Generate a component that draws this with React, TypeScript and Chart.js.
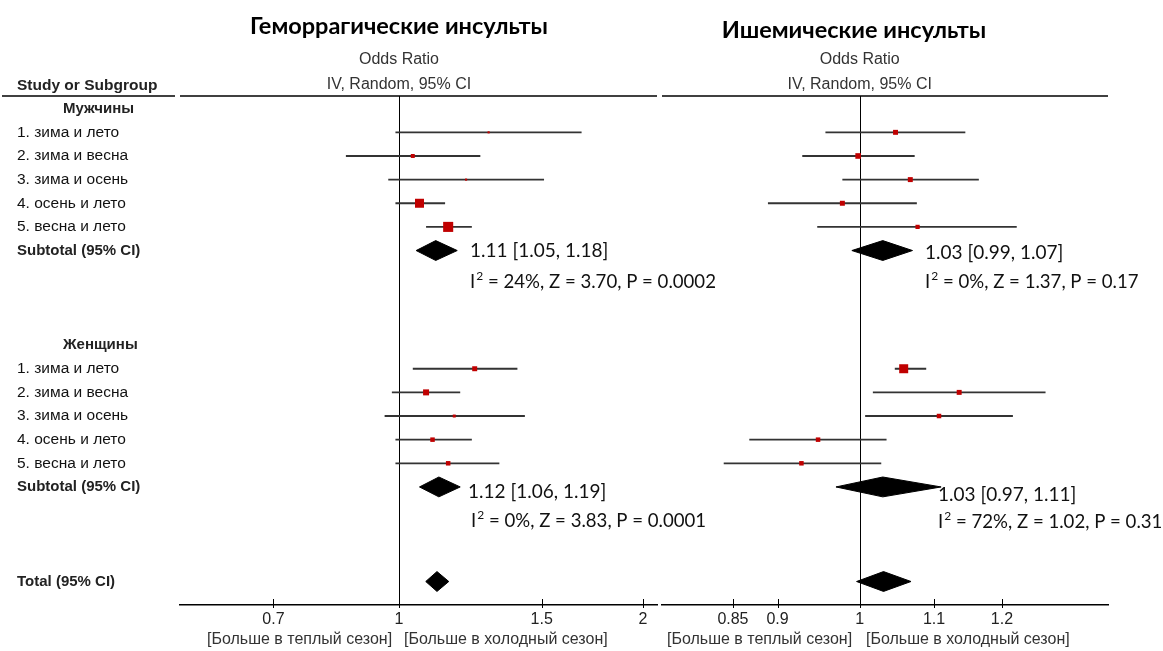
import React, { useEffect, useRef } from 'react';
import { Chart, registerables } from 'chart.js';

Chart.register(...registerables);

// ---------- text ----------
const panelTitles = ['Геморрагические инсульты', 'Ишемические инсульты'];
const effectHeader = ['Odds Ratio', 'IV, Random, 95% CI'];
const studyHeader = 'Study or Subgroup';
const groupLabels = ['Мужчины', 'Женщины'];
const studyLabels = ['1. зима и лето', '2. зима и весна', '3. зима и осень', '4. осень и лето', '5. весна и лето'];
const subtotalLabel = 'Subtotal (95% CI)';
const totalLabel = 'Total (95% CI)';
const favourLabels = ['[Больше в теплый сезон]', '[Больше в холодный сезон]'];

// ---------- hemorrhagic strokes ----------
const hemMenOR = [1.29, 1.04, 1.21, 1.06, 1.15];
const hemMenLow = [0.99, 0.86, 0.97, 0.99, 1.08];
const hemMenHigh = [1.68, 1.26, 1.51, 1.14, 1.23];
const hemMenWeight = [2, 7, 2, 36, 45];
const hemWomenOR = [1.24, 1.08, 1.17, 1.1, 1.15];
const hemWomenLow = [1.04, 0.98, 0.96, 0.99, 0.99];
const hemWomenHigh = [1.4, 1.19, 1.43, 1.23, 1.33];
const hemWomenWeight = [11, 16, 4, 9, 9];
const hemSubtotalOR = [1.11, 1.12];
const hemSubtotalLow = [1.05, 1.06];
const hemSubtotalHigh = [1.18, 1.19];
const hemSubtotalStats = ['24%, Z = 3.70, P = 0.0002', '0%, Z = 3.83, P = 0.0001'];
const hemTotal = [1.114, 1.079, 1.152];
const hemTicks = [0.7, 1, 1.5, 2];
const hemRange = [0.5368, 2.0814];

// ---------- ischemic strokes ----------
const ischMenOR = [1.047, 0.998, 1.067, 0.978, 1.077];
const ischMenLow = [0.957, 0.929, 0.978, 0.889, 0.947];
const ischMenHigh = [1.145, 1.073, 1.165, 1.076, 1.223];
const ischMenWeight = [11, 14, 11, 11, 8];
const ischWomenOR = [1.058, 1.136, 1.107, 0.948, 0.928];
const ischWomenLow = [1.046, 1.017, 1.007, 0.868, 0.84];
const ischWomenHigh = [1.089, 1.269, 1.217, 1.035, 1.028];
const ischWomenWeight = [36, 11, 9, 9, 9];
const ischSubtotalOR = [1.03, 1.03];
const ischSubtotalLow = [0.99, 0.97];
const ischSubtotalHigh = [1.07, 1.11];
const ischSubtotalStats = ['0%, Z = 1.37, P = 0.17', '72%, Z = 1.02, P = 0.31'];
const ischTotal = [1.031, 0.996, 1.068];
const ischTicks = [0.85, 0.9, 1, 1.1, 1.2];
const ischRange = [0.7761, 1.3748];

// ---------- layout helpers ----------
const ROW_MIN = -0.537;
const ROW_MAX = 20.994;
const groupRow = (g: number) => g * 10;
const studyRow = (g: number, i: number) => g * 10 + 1 + i;
const subtotalRow = (g: number) => g * 10 + 6;
const TOTAL_ROW = 20;
const DIAMOND_HALF = 0.42;

const RED = '#c00000';
const LINE = '#333333';
const SANS = '"Liberation Sans", Arial, sans-serif';
const CAL = 'Lato, "Open Sans", sans-serif';

function fmt(v: number) {
  return v.toFixed(2);
}

type Group = { or: number[]; low: number[]; high: number[]; weight: number[] };
type PanelData = {
  key: string;
  groups: Group[];
  subOR: number[];
  subLow: number[];
  subHigh: number[];
  subStats: string[];
  total: number[];
  ticks: number[];
  range: number[];
};

const hemData: PanelData = {
  key: 'hem',
  groups: [
    { or: hemMenOR, low: hemMenLow, high: hemMenHigh, weight: hemMenWeight },
    { or: hemWomenOR, low: hemWomenLow, high: hemWomenHigh, weight: hemWomenWeight },
  ],
  subOR: hemSubtotalOR,
  subLow: hemSubtotalLow,
  subHigh: hemSubtotalHigh,
  subStats: hemSubtotalStats,
  total: hemTotal,
  ticks: hemTicks,
  range: hemRange,
};

const ischData: PanelData = {
  key: 'isch',
  groups: [
    { or: ischMenOR, low: ischMenLow, high: ischMenHigh, weight: ischMenWeight },
    { or: ischWomenOR, low: ischWomenLow, high: ischWomenHigh, weight: ischWomenWeight },
  ],
  subOR: ischSubtotalOR,
  subLow: ischSubtotalLow,
  subHigh: ischSubtotalHigh,
  subStats: ischSubtotalStats,
  total: ischTotal,
  ticks: ischTicks,
  range: ischRange,
};

type Layout = {
  offsetX: number;
  width: number;
  padLeft: number;
  padRight: number;
  rules: number[][];
  isLeft: boolean;
  titleX: number;
  titleY: number;
  statsPos: number[][];
  favourPos: number[];
};

const hemLayout: Layout = {
  offsetX: 0,
  width: 1163,
  padLeft: 180,
  padRight: 506,
  rules: [
    [2, 175],
    [180, 657],
  ],
  isLeft: true,
  titleX: 399,
  titleY: 26,
  statsPos: [
    [470, 251, 470, 282],
    [468, 492, 471, 521],
  ],
  favourPos: [207, 404],
};

const ischLayout: Layout = {
  offsetX: 660,
  width: 503,
  padLeft: 2,
  padRight: 55,
  rules: [[2, 448]],
  isLeft: false,
  titleX: 854,
  titleY: 30,
  statsPos: [
    [925, 253, 925, 282],
    [938, 495, 938, 522],
  ],
  favourPos: [667, 866],
};

function drawText(
  ctx: CanvasRenderingContext2D,
  s: string,
  x: number,
  y: number,
  font: string,
  color: string,
  align: CanvasTextAlign = 'left',
  sx = 1
) {
  ctx.save();
  ctx.font = font;
  ctx.fillStyle = color;
  ctx.textAlign = align;
  ctx.textBaseline = 'middle';
  ctx.translate(x, y);
  ctx.scale(sx, 1);
  ctx.fillText(s, 0, 0);
  ctx.restore();
}

function drawI2(ctx: CanvasRenderingContext2D, rest: string, x: number, y: number) {
  ctx.save();
  ctx.font = `18.6px ${CAL}`;
  ctx.fillStyle = '#111';
  ctx.textBaseline = 'middle';
  ctx.textAlign = 'left';
  ctx.fillText('I', x, y);
  const wI = ctx.measureText('I').width;
  ctx.font = `12px ${CAL}`;
  ctx.fillText('2', x + wI + 1, y - 6);
  const w2 = ctx.measureText('2').width;
  ctx.font = `18.6px ${CAL}`;
  ctx.fillText(' = ' + rest, x + wI + w2 + 1, y);
  ctx.restore();
}

function makePlugin(d: PanelData, L: Layout) {
  return {
    id: 'forest_' + d.key,
    beforeDatasetsDraw(chart: any) {
      const { ctx, chartArea, scales } = chart;
      const x = scales.x;
      ctx.save();
      ctx.strokeStyle = '#000';
      ctx.lineWidth = 1.4;
      L.rules.forEach(([a, b]) => {
        ctx.beginPath();
        ctx.moveTo(a, chartArea.top);
        ctx.lineTo(b, chartArea.top);
        ctx.stroke();
      });
      ctx.lineWidth = 1;
      const p1 = Math.round(x.getPixelForValue(1)) + 0.5;
      ctx.beginPath();
      ctx.moveTo(p1, chartArea.top);
      ctx.lineTo(p1, chartArea.bottom);
      ctx.stroke();
      d.ticks.forEach((v) => {
        const px = Math.round(x.getPixelForValue(v)) + 0.5;
        ctx.beginPath();
        ctx.moveTo(px, chartArea.bottom - 6);
        ctx.lineTo(px, chartArea.bottom + 3);
        ctx.stroke();
      });
      ctx.restore();
    },
    afterDraw(chart: any) {
      const { ctx, scales } = chart;
      const y = scales.y;
      const ox = L.offsetX;
      drawText(ctx, panelTitles[L.isLeft ? 0 : 1], L.titleX - ox, L.titleY, `bold 23.5px ${CAL}`, '#000', 'center');
      const cx = scales.x.getPixelForValue(1);
      drawText(ctx, effectHeader[0], cx, 60, `16px ${SANS}`, '#333', 'center');
      drawText(ctx, effectHeader[1], cx, 85, `16px ${SANS}`, '#333', 'center');
      if (L.isLeft) {
        drawText(ctx, studyHeader, 17, 86, `bold 15.5px ${SANS}`, '#222', 'left');
        for (let g = 0; g < 2; g++) {
          drawText(ctx, groupLabels[g], 63, y.getPixelForValue(groupRow(g)), `bold 15px ${SANS}`, '#222', 'left');
          studyLabels.forEach((s, i) => {
            drawText(ctx, s, 17, y.getPixelForValue(studyRow(g, i)), `15.5px ${SANS}`, '#111', 'left');
          });
          drawText(ctx, subtotalLabel, 17, y.getPixelForValue(subtotalRow(g)), `bold 15px ${SANS}`, '#222', 'left');
        }
        drawText(ctx, totalLabel, 17, y.getPixelForValue(TOTAL_ROW), `bold 15px ${SANS}`, '#222', 'left');
      }
      for (let g = 0; g < 2; g++) {
        const [x1, y1, x2, y2] = L.statsPos[g];
        const est = `${fmt(d.subOR[g])} [${fmt(d.subLow[g])}, ${fmt(d.subHigh[g])}]`;
        drawText(ctx, est, x1 - ox, y1, `19px ${CAL}`, '#111', 'left');
        drawI2(ctx, d.subStats[g], x2 - ox, y2);
      }
      drawText(ctx, favourLabels[0], L.favourPos[0] - ox, 640, `16px ${SANS}`, '#333', 'left');
      drawText(ctx, favourLabels[1], L.favourPos[1] - ox, 640, `16px ${SANS}`, '#333', 'left');
    },
  };
}

function buildDatasets(d: PanelData) {
  const ciData: any[] = [];
  const pts: any[] = [];
  const sizes: number[] = [];
  d.groups.forEach((gr, g) => {
    gr.or.forEach((v, i) => {
      const r = studyRow(g, i);
      ciData.push({ x: gr.low[i], y: r }, { x: gr.high[i], y: r }, { x: gr.high[i], y: null });
      pts.push({ x: v, y: r });
      sizes.push(gr.weight[i]);
    });
  });
  const diamond = (est: number, lo: number, hi: number, row: number) => [
    { x: lo, y: row },
    { x: est, y: row - DIAMOND_HALF },
    { x: hi, y: row },
    { x: est, y: row + DIAMOND_HALF },
    { x: lo, y: row },
  ];
  const diamondDs = (data: any[], label: string) => ({
    type: 'line',
    label,
    data,
    borderColor: '#000',
    backgroundColor: '#000',
    borderWidth: 1,
    pointRadius: 0,
    fill: 'shape',
    tension: 0,
    order: 1,
  });
  return [
    {
      type: 'line',
      label: 'CI',
      data: ciData,
      borderColor: LINE,
      borderWidth: 1.8,
      pointRadius: 0,
      spanGaps: false,
      fill: false,
      tension: 0,
      order: 3,
    },
    {
      type: 'scatter',
      label: 'OR',
      data: pts,
      pointStyle: 'rect',
      pointRadius: (c: any) => (1.5 * Math.sqrt(sizes[c.dataIndex] || 1)) / Math.SQRT2,
      backgroundColor: RED,
      borderWidth: 0,
      order: 2,
    },
    ...d.subOR.map((v, g) =>
      diamondDs(diamond(v, d.subLow[g], d.subHigh[g], subtotalRow(g)), 'Subtotal ' + g)
    ),
    diamondDs(diamond(d.total[0], d.total[1], d.total[2], TOTAL_ROW), 'Total'),
  ];
}

function ForestPanel({ d, L }: { d: PanelData; L: Layout }) {
  const ref = useRef<HTMLCanvasElement>(null);
  useEffect(() => {
    if (!ref.current) return;
    const chart = new Chart(ref.current, {
      type: 'scatter',
      data: { datasets: buildDatasets(d) as any },
      options: {
        animation: false,
        responsive: false,
        events: [],
        layout: { autoPadding: false, padding: { left: L.padLeft, right: L.padRight, top: 96, bottom: 0 } },
        plugins: { legend: { display: false }, tooltip: { enabled: false }, title: { display: false } },
        scales: {
          x: {
            type: 'logarithmic',
            position: 'bottom',
            min: d.range[0],
            max: d.range[1],
            afterBuildTicks: (s: any) => {
              s.ticks = d.ticks.map((v) => ({ value: v }));
            },
            afterFit: (s: any) => {
              s.height = 46;
              s.paddingLeft = 0;
              s.paddingRight = 0;
            },
            grid: { display: true, drawOnChartArea: false, drawTicks: false },
            border: { display: true, color: '#000', width: 1.4 },
            ticks: {
              autoSkip: false,
              maxRotation: 0,
              padding: 5,
              color: '#222',
              font: { family: SANS, size: 16 },
              callback: (v: any) => String(v),
            },
          },
          y: {
            type: 'linear',
            min: ROW_MIN,
            max: ROW_MAX,
            reverse: true,
            display: false,
          },
        },
      } as any,
      plugins: [makePlugin(d, L)],
    });
    return () => chart.destroy();
  }, []);
  return (
    <canvas
      ref={ref}
      width={L.width}
      height={651}
      style={{ position: 'absolute', left: L.offsetX, top: 0, width: L.width, height: 651 }}
    />
  );
}

export default function App() {
  return (
    <div style={{ position: 'absolute', left: 0, top: 0, width: 1163, height: 651, background: '#fff' }}>
      <ForestPanel d={hemData} L={hemLayout} />
      <ForestPanel d={ischData} L={ischLayout} />
    </div>
  );
}
